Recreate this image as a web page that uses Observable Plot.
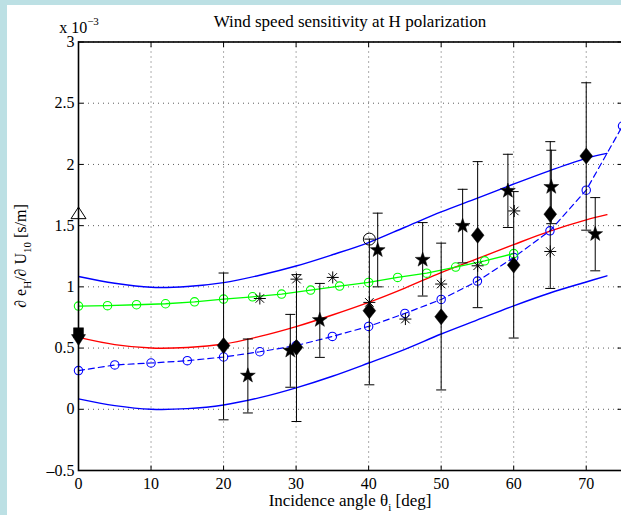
<!DOCTYPE html>
<html>
<head>
<meta charset="utf-8">
<script src="https://cdn.jsdelivr.net/npm/d3@7"></script>
<script src="https://cdn.jsdelivr.net/npm/@observablehq/plot@0.6"></script>
<style>
  html, body { margin: 0; padding: 0; background: #bce0e4; overflow: hidden; }
  #wrap { position: relative; width: 621px; height: 515px; overflow: hidden; }
  #white { position: absolute; left: 7px; top: 5px; right: 0; bottom: 0; background: #ffffff; }
  #chart { position: absolute; left: 0; top: 0; }
</style>
</head>
<body>
<div id="wrap"><div id="white"></div><div id="chart"></div></div>
<script>
// ---------- data (values in units of 1e-3 s/m) ----------
const xTicks = [0, 10, 20, 30, 40, 50, 60, 70];
const yTicks = [-0.5, 0, 0.5, 1, 1.5, 2, 2.5, 3];
const yTickLabels = ["–0.5", "0", "0.5", "1", "1.5", "2", "2.5", "3"];

const curveX    = [0, 5, 10, 15, 20, 25, 30, 35, 40, 45, 50, 55, 60, 65, 70, 72.85];
const upperBlue = [1.085, 1.03, 0.997, 1.003, 1.035, 1.095, 1.17, 1.262, 1.362, 1.487, 1.612, 1.725, 1.84, 1.95, 2.05, 2.09];
const redModel  = [0.587, 0.528, 0.500, 0.505, 0.533, 0.595, 0.675, 0.77, 0.873, 0.99, 1.117, 1.23, 1.345, 1.455, 1.547, 1.59];
const lowerBlue = [0.085, 0.03, 0.0, 0.005, 0.035, 0.095, 0.175, 0.27, 0.378, 0.49, 0.615, 0.73, 0.845, 0.95, 1.04, 1.09];

const dashedX = [0, 5, 10, 15, 20, 25, 30, 35, 40, 45, 50, 55, 60, 65, 70, 75];
const dashedY = [0.316, 0.362, 0.378, 0.397, 0.427, 0.47, 0.52, 0.595, 0.677, 0.783, 0.897, 1.047, 1.24, 1.458, 1.79, 2.314];

const greenX = [0, 4, 8, 12, 16, 20, 24, 28, 32, 36, 40, 44, 48, 52, 56, 60];
const greenY = [0.843, 0.846, 0.854, 0.862, 0.878, 0.90, 0.919, 0.941, 0.974, 1.006, 1.036, 1.077, 1.112, 1.162, 1.213, 1.272];

const diamondX  = [20, 30.05, 40.1, 50, 55.03, 60, 65.04, 70];
const diamondY  = [0.52, 0.506, 0.805, 0.756, 1.422, 1.178, 1.594, 2.069];
const diamondLo = [-0.086, -0.10, 0.20, 0.158, 0.83, 0.582, 0.987, 1.463];
const diamondHi = [1.113, 1.10, 1.39, 1.357, 2.023, 1.778, 2.186, 2.667];

const starX  = [23.35, 29.2, 33.27, 41.25, 47.45, 52.96, 59.2, 65.18, 71.24];
const starY  = [0.275, 0.479, 0.729, 1.30, 1.221, 1.498, 1.784, 1.816, 1.431];
const starLo = [-0.03, 0.18, 0.424, 1.0, 0.925, 1.196, 1.485, 1.516, 1.131];
const starHi = [0.574, 0.775, 1.028, 1.602, 1.525, 1.797, 2.083, 2.116, 1.729];

const asteriskX = [25.0, 30.05, 35.05, 40.1, 45.07, 50.0, 55.03, 60.08, 65.04];
const asteriskY = [0.905, 1.063, 1.077, 0.873, 0.737, 1.023, 1.172, 1.62, 1.289];

const openCircleX = [40.1], openCircleY = [1.39];
const triUpX = [0], triUpY = [1.6];
const squareX = [0], squareY = [0.625];
const triDownX = [0], triDownY = [0.57];

// ---------- helpers ----------
const zip = (xs, ys) => xs.map((x, i) => ({x, y: ys[i]}));
const bars = (xs, lo, hi) => xs.map((x, i) => ({x, lo: lo[i], hi: hi[i]}));
const rad = (size) => Math.sqrt(size / Math.PI);

const diamondSym = {draw(c, s) { const r = rad(s); c.moveTo(0, -1.2 * r); c.lineTo(0.95 * r, 0); c.lineTo(0, 1.2 * r); c.lineTo(-0.95 * r, 0); c.closePath(); }};
const starSym = {draw(c, s) { const R = rad(s), r = R * 0.40; for (let k = 0; k < 10; k++) { const a = -Math.PI / 2 + k * Math.PI / 5; const rr = k % 2 ? r : R; const px = rr * Math.cos(a), py = rr * Math.sin(a); if (k) c.lineTo(px, py); else c.moveTo(px, py); } c.closePath(); }};
const asteriskSym = {draw(c, s) { const r = rad(s); for (let k = 0; k < 4; k++) { const a = k * Math.PI / 4; c.moveTo(-r * Math.cos(a), -r * Math.sin(a)); c.lineTo(r * Math.cos(a), r * Math.sin(a)); } }};
const capSym = {draw(c, s) { const r = rad(s); c.moveTo(-r, 0); c.lineTo(r, 0); }};
const triUpSym = {draw(c, s) { const r = rad(s); c.moveTo(0, -0.85 * r); c.lineTo(r, 0.7 * r); c.lineTo(-r, 0.7 * r); c.closePath(); }};
const triDownSym = {draw(c, s) { const r = rad(s); c.moveTo(0, 0.85 * r); c.lineTo(r, -0.7 * r); c.lineTo(-r, -0.7 * r); c.closePath(); }};
const squareSym = {draw(c, s) { const r = rad(s); c.rect(-r, -r, 2 * r, 2 * r); }};
const tick = (dx, dy) => ({draw(c, s) { c.moveTo(0, 0); c.lineTo(dx, dy); }});

const diamondBars = bars(diamondX, diamondLo, diamondHi);
const starBars = bars(starX, starLo, starHi);
const allBars = diamondBars.concat(starBars);

const chart = Plot.plot({
  width: 622,
  height: 515,
  marginLeft: 78,
  marginRight: 0,
  marginTop: 41.5,
  marginBottom: 45,
  style: {fontFamily: "'Liberation Serif', 'Times New Roman', serif", fontSize: "16px", background: "transparent", maxWidth: "none", overflow: "visible", color: "black"},
  x: {domain: [0, 75], label: null},
  y: {domain: [-0.5, 3], label: null},
  marks: [
    Plot.gridX(xTicks, {stroke: "#333", strokeOpacity: 0.8, strokeWidth: 1, strokeDasharray: "1,4"}),
    Plot.gridY(yTicks, {stroke: "#333", strokeOpacity: 0.8, strokeWidth: 1, strokeDasharray: "1,4"}),
    Plot.axisX(xTicks, {tickSize: 0, tickPadding: 7, fontSize: 16, tickFormat: d => String(d), label: null}),
    Plot.axisY(yTicks, {tickSize: 0, tickPadding: 4, fontSize: 16, tickFormat: (d, i) => yTickLabels[i], label: null}),
    // model curves
    Plot.line(zip(curveX, upperBlue), {x: "x", y: "y", stroke: "#0000ff", strokeWidth: 1.4, curve: "catmull-rom", clip: true}),
    Plot.line(zip(curveX, lowerBlue), {x: "x", y: "y", stroke: "#0000ff", strokeWidth: 1.4, curve: "catmull-rom", clip: true}),
    Plot.line(zip(curveX, redModel), {x: "x", y: "y", stroke: "#ff0000", strokeWidth: 1.4, curve: "catmull-rom", clip: true}),
    Plot.line(zip(dashedX, dashedY), {x: "x", y: "y", stroke: "#0000ff", strokeWidth: 1.2, strokeDasharray: "6,4", clip: true}),
    Plot.dot(zip(dashedX, dashedY), {x: "x", y: "y", r: 4.2, stroke: "#0000ff", strokeWidth: 1.1, fill: "none"}),
    Plot.line(zip(greenX, greenY), {x: "x", y: "y", stroke: "#00ff00", strokeWidth: 1.3}),
    Plot.dot(zip(greenX, greenY), {x: "x", y: "y", r: 4.2, stroke: "#00ff00", strokeWidth: 1.1, fill: "none"}),
    // error bars
    Plot.ruleX(allBars, {x: "x", y1: "lo", y2: "hi", stroke: "black", strokeWidth: 1}),
    Plot.dot(allBars, {x: "x", y: "lo", r: 5, symbol: capSym, stroke: "black", strokeWidth: 1}),
    Plot.dot(allBars, {x: "x", y: "hi", r: 5, symbol: capSym, stroke: "black", strokeWidth: 1}),
    // markers
    Plot.dot(zip(asteriskX, asteriskY), {x: "x", y: "y", r: 6, symbol: asteriskSym, stroke: "black", strokeWidth: 1}),
    Plot.dot(zip(starX, starY), {x: "x", y: "y", r: 7.8, symbol: starSym, fill: "black", stroke: "black", strokeWidth: 0.5}),
    Plot.dot(zip(diamondX, diamondY), {x: "x", y: "y", r: 6.7, symbol: diamondSym, fill: "black", stroke: "black", strokeWidth: 0.5}),
    Plot.dot(zip(openCircleX, openCircleY), {x: "x", y: "y", r: 6, stroke: "black", strokeWidth: 1, fill: "none"}),
    Plot.dot(zip(triUpX, triUpY), {x: "x", y: "y", r: 7.5, symbol: triUpSym, stroke: "black", strokeWidth: 1, fill: "none"}),
    Plot.dot(zip(squareX, squareY), {x: "x", y: "y", r: 5, symbol: squareSym, fill: "black", stroke: "black", strokeWidth: 0.5}),
    Plot.dot(zip(triDownX, triDownY), {x: "x", y: "y", r: 7, symbol: triDownSym, fill: "black", stroke: "black", strokeWidth: 0.5}),
    // frame and inward ticks
    Plot.frame({stroke: "black", strokeWidth: 1.6}),
    Plot.dot(xTicks, {x: d => d, frameAnchor: "bottom", symbol: tick(0, -5), stroke: "black", strokeWidth: 1}),
    Plot.dot(xTicks, {x: d => d, frameAnchor: "top", symbol: tick(0, 5), stroke: "black", strokeWidth: 1}),
    Plot.dot(yTicks, {y: d => d, frameAnchor: "left", symbol: tick(5, 0), stroke: "black", strokeWidth: 1}),
    Plot.dot(yTicks, {y: d => d, frameAnchor: "right", symbol: tick(-5, 0), stroke: "black", strokeWidth: 1})
  ]
});

document.getElementById("chart").appendChild(chart);

// ---------- texts ----------
const svg = d3.select(chart);
const font = "'Liberation Serif', 'Times New Roman', serif";

svg.append("text")
  .attr("x", 350).attr("y", 27)
  .attr("text-anchor", "middle").attr("font-family", font).attr("font-size", 17).attr("fill", "black")
  .text("Wind speed sensitivity at H polarization");

const expo = svg.append("text")
  .attr("x", 79).attr("y", 33).attr("font-family", font).attr("font-size", 16).attr("fill", "black");
expo.append("tspan").text("x 10");
expo.append("tspan").attr("dy", -8).attr("font-size", 11).text("−3");

const xl = svg.append("text")
  .attr("x", 350).attr("y", 506).attr("text-anchor", "middle")
  .attr("font-family", font).attr("font-size", 17).attr("fill", "black");
xl.append("tspan").text("Incidence angle θ");
xl.append("tspan").attr("dy", 5).attr("font-size", 11).text("i");
xl.append("tspan").attr("dy", -5).text(" [deg]");

const yl = svg.append("text")
  .attr("transform", "translate(26,256) rotate(-90)").attr("text-anchor", "middle")
  .attr("font-family", font).attr("font-size", 16).attr("fill", "black");
yl.append("tspan").text("∂ e");
yl.append("tspan").attr("dy", 5).attr("font-size", 11).text("H");
yl.append("tspan").attr("dy", -5).text("/∂ U");
yl.append("tspan").attr("dy", 5).attr("font-size", 11).text("10");
yl.append("tspan").attr("dy", -5).text(" [s/m]");
</script>
</body>
</html>
